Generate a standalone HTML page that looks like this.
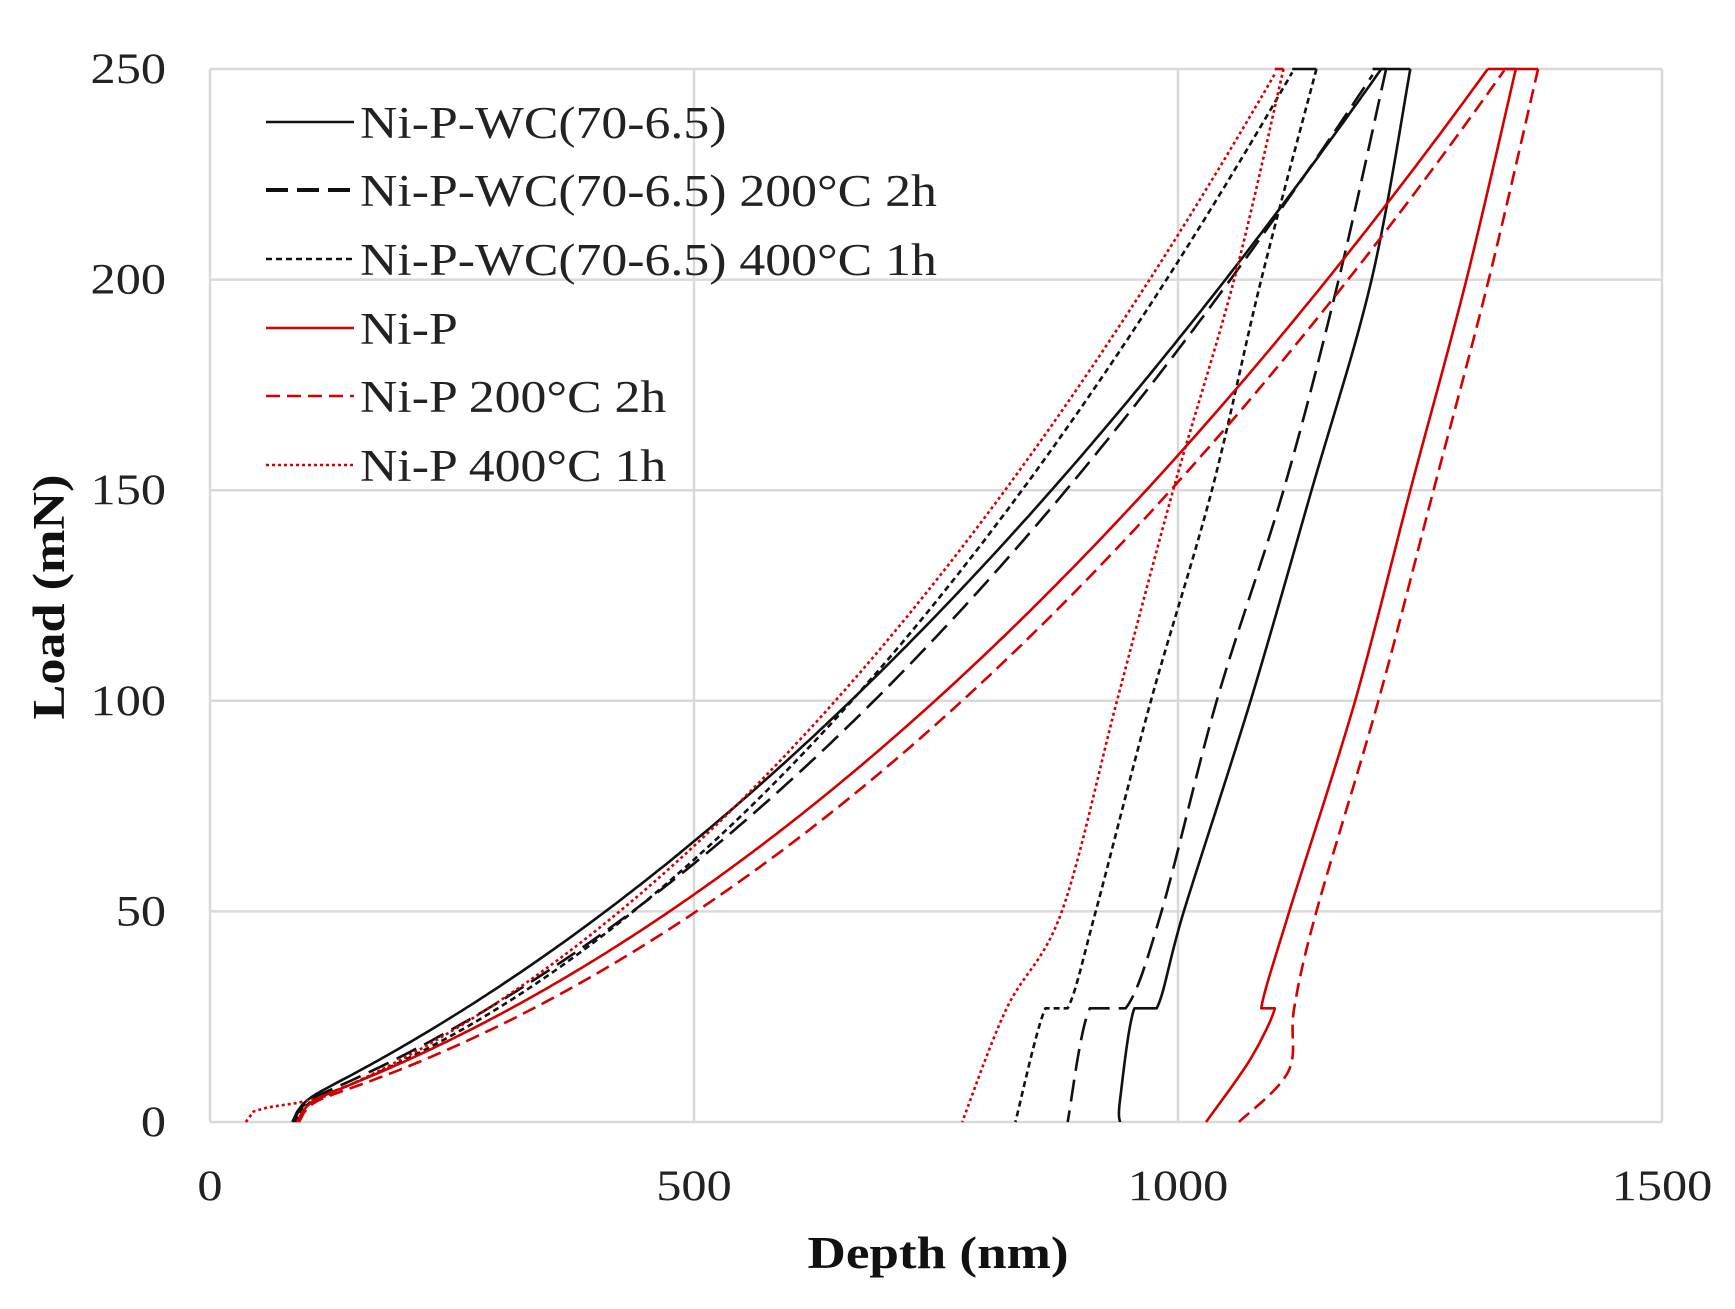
<!DOCTYPE html>
<html><head><meta charset="utf-8"><style>
html,body{margin:0;padding:0;background:#fff;}
svg{display:block;font-family:"Liberation Serif",serif;}
</style></head><body>
<svg id="s" width="1735" height="1309" xmlns="http://www.w3.org/2000/svg">
<rect width="1735" height="1309" fill="#fff"/>
<g id="grid" stroke="#d9d9d9" stroke-width="2.5" fill="none"></g>
<g id="ticks" font-size="43" fill="#222"></g>
<g id="curves" fill="none" stroke-width="2.6" stroke-linejoin="round"></g>
<text transform="translate(938,1268) scale(1.18,1)" font-size="45" font-weight="bold" text-anchor="middle" fill="#111">Depth (nm)</text>
<text transform="translate(64,597) rotate(-90) scale(1.16,1)" font-size="45" font-weight="bold" text-anchor="middle" fill="#111">Load (mN)</text>
<g id="legend" font-size="45" fill="#222"></g>
</svg>
<script>
var L=210,R=1662,T=69,B=1122;
function X(d){return L+d/1500*(R-L);}function Y(l){return B-l/250*(B-T);}
var NS="http://www.w3.org/2000/svg";
function el(p,t,a,txt){var e=document.createElementNS(NS,t);for(var k in a)e.setAttribute(k,a[k]);if(txt)e.textContent=txt;document.getElementById(p).appendChild(e);return e;}
function tx(p,x,y,anchor,s,txt){return el(p,"text",{transform:"translate("+x+","+y+") scale("+s+",1)","text-anchor":anchor},txt);}
[0,50,100,150,200,250].forEach(function(v){el("grid","line",{x1:L,x2:R,y1:Y(v),y2:Y(v)});tx("ticks",166,Y(v)+14,"end",1.17,String(v));});
[0,500,1000,1500].forEach(function(v){el("grid","line",{x1:X(v),x2:X(v),y1:T,y2:B});tx("ticks",X(v),1200,"middle",1.17,String(v));});
var red="#d40000",blk="#111";
function gen(d0,d1,d2,pre){
 var x1=d1-d0,x2=d2-d0,t1=100-4,t2=250-4;
 var Bq=(t2-t1*x2/x1)/(x2*x2-x1*x2),Aq=(t1-Bq*x1*x1)/x1;
 var pts=pre?pre.slice():[];
 for(var x=0;x<=x2+0.01;x+=5){var l=Aq*x+Bq*x*x+4*(1-Math.exp(-x/8));if(pre&&l<6)continue;pts.push([d0+x,l]);}
 return pts;}
var S=[
{c:blk,d:"",load:gen(85,662,1210),un:[[1240,250],[1200,200],[1138,150],[1075,100],[1006,50],[978,27],[955,27],[940,5],[940,0]]},
{c:blk,d:"22 9",load:gen(86,686,1205),un:[[1215,250],[1166,200],[1109,150],[1040,100],[983,50],[946,27],[909,27],[886,0]]},
{c:blk,d:"6 4",load:gen(88,663,1120),un:[[1143,250],[1086,200],[1035,150],[972,100],[915,50],[886,27],[863,27],[832,0]]},
{c:red,d:"",load:gen(90,749,1320),un:[[1349,250],[1298,200],[1240,150],[1183,100],[1115,50],[1086,27],[1100,27],[1075,15],[1029,0]]},
{c:red,d:"14 7",load:gen(92,777,1338),un:[[1372,250],[1321,200],[1264,150],[1207,100],[1143,50],[1120,27],[1114,12],[1063,0]]},
{c:red,d:"3 3",load:gen(95,646,1103,[[37,0],[45,2.5],[60,3.5],[90,4.5]]),un:[[1109,250],[1058,200],[995,150],[937,100],[880,50],[823,27],[777,0]]}
];
function lin(pts){return "M"+pts.map(function(q){return X(q[0]).toFixed(1)+","+Y(q[1]).toFixed(1);}).join(" L");}
function path(pts){
 var p=pts.map(function(q){return [X(q[0]),Y(q[1])];});var s="M"+p[0][0]+","+p[0][1];
 for(var i=0;i<p.length-1;i++){var p0=p[i-1]||p[i],p1=p[i],p2=p[i+1],p3=p[i+2]||p2;
  var c1=[p1[0]+(p2[0]-p0[0])/6,p1[1]+(p2[1]-p0[1])/6],c2=[p2[0]-(p3[0]-p1[0])/6,p2[1]-(p3[1]-p1[1])/6];
  if(p1[1]==p2[1]){s+=" L"+p2[0]+","+p2[1];}else s+=" C"+c1+" "+c2+" "+p2;}
 return s;}
S.forEach(function(o){var a={d:lin(o.load),stroke:o.c};if(o.d)a["stroke-dasharray"]=o.d;el("curves","path",a);
 var b={d:path(o.un),stroke:o.c};if(o.d)b["stroke-dasharray"]=o.d;el("curves","path",b);
 var t={d:"M"+X(o.load[o.load.length-1][0])+","+Y(250)+" L"+X(o.un[0][0])+","+Y(250),stroke:o.c};el("curves","path",t);});
var names=["Ni-P-WC(70-6.5)","Ni-P-WC(70-6.5) 200°C 2h","Ni-P-WC(70-6.5) 400°C 1h","Ni-P","Ni-P 200°C 2h","Ni-P 400°C 1h"];
var ys=[122,190,259,328,396,465];
names.forEach(function(n,i){var o=S[i];var a={x1:266,x2:354,y1:ys[i],y2:ys[i],stroke:o.c,"stroke-width":o.d=="22 9"?4:2.6};if(o.d)a["stroke-dasharray"]=o.d;el("legend","line",a);
 tx("legend",360,ys[i]+16,"start",1.15,n);});
</script>
</body></html>
